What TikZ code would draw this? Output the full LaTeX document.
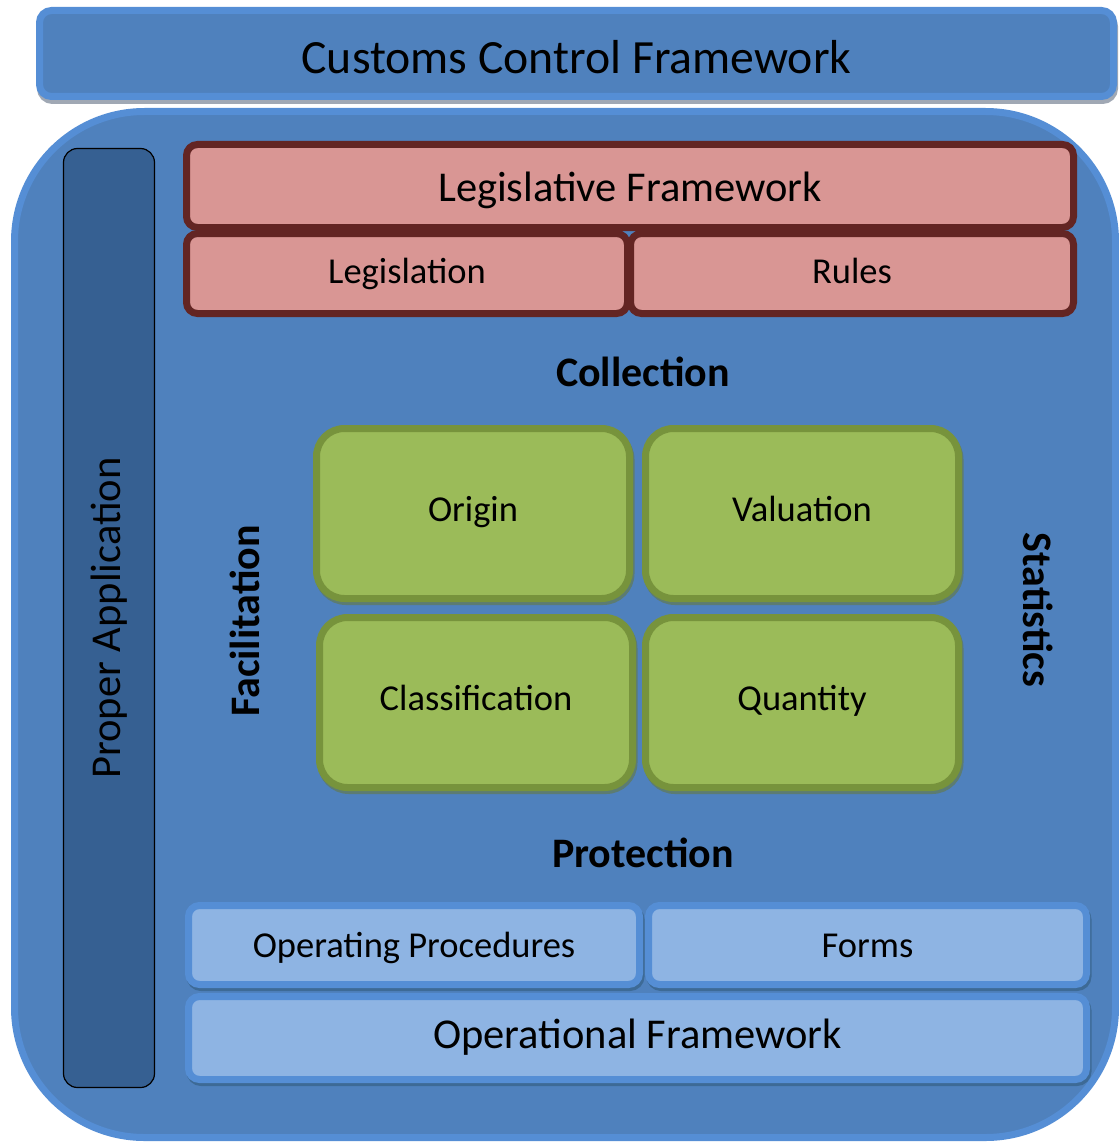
\documentclass[tikz,border=0pt]{standalone}
\usepackage{fontspec}
\setmainfont{Carlito}
\definecolor{frameblue}{HTML}{4F81BD}
\definecolor{edgeblue}{HTML}{558ED5}
\definecolor{bardark}{HTML}{366092}
\definecolor{legfill}{HTML}{D99694}
\definecolor{legedge}{HTML}{632523}
\definecolor{cellfill}{HTML}{9BBB59}
\definecolor{celledge}{HTML}{77933C}
\definecolor{cellshade}{HTML}{5C7C72}
\definecolor{opfill}{HTML}{8EB4E3}
\definecolor{opshade}{HTML}{3D6A96}
\definecolor{titleshade}{HTML}{A0A8B4}

\begin{document}
\begin{tikzpicture}[x=1pt,y=-1pt,
    every node/.style={inner sep=0pt,text=black},
    lab/.style={font=\fontsize{36.5}{44}\selectfont},
    biglab/.style={font=\fontsize{42.5}{50}\selectfont},
    side/.style={font=\bfseries\fontsize{42}{50}\selectfont},
    lift/.style={text height=#1,text depth=0pt},
    legbox/.style={draw=legedge,fill=legfill,line width=7pt,rounded corners=11pt},
    cellbox/.style={draw=celledge,fill=cellfill,line width=7pt,rounded corners=28pt,lab,lift=16pt,
        minimum width=313pt,minimum height=170pt,
        preaction={draw=cellshade,fill=cellshade,transform canvas={shift={(1.5pt,-3pt)}}}},
    opbox/.style={draw=edgeblue,fill=opfill,line width=7pt,rounded corners=11pt,
        preaction={draw=opshade,fill=opshade,transform canvas={shift={(1.5pt,-3pt)}}}}]
\useasboundingbox (0,0) rectangle (1118,1142);

\node[draw=edgeblue,fill=frameblue,line width=7pt,rounded corners=130pt,
    minimum width=1101pt,minimum height=1026pt] (frame) at (565,624.5) {};
\node[draw=edgeblue,fill=frameblue,line width=7pt,rounded corners=12pt,
    minimum width=1074pt,minimum height=86pt,font=\fontsize{47.7}{56}\selectfont,lift=40pt,
    preaction={draw=titleshade,fill=titleshade,transform canvas={shift={(1pt,-4pt)}}}]
    (title) at (576.5,53.5) {Customs Control Framework};

\node[draw=black,line width=1.2pt,fill=bardark,rounded corners=14pt,rotate=90,
    minimum width=939pt,minimum height=91pt,biglab] (apply) at (109,618) {Proper Application};

% legislative side
\node[legbox,biglab,lift=31pt,minimum width=887pt,minimum height=83pt] (legfw) at (630,186) {Legislative Framework};
\node[legbox,lab,lift=19pt,minimum width=441pt,minimum height=80pt] (legis) at (407,273.5) {Legislation};
\node[legbox,lab,lift=19pt,minimum width=443pt,minimum height=80pt] (rules) at (852,273.5) {Rules};

\node[side] (collect) at (643,372) {Collection};
\node[side,rotate=90] (facil) at (245,621) {Facilitation};
\node[side,rotate=-90] (stats) at (1038,610) {Statistics};
\node[side] (protect) at (643,853) {Protection};

\node[cellbox] (origin) at (473,513.5) {Origin};
\node[cellbox] (valu) at (802,513.5) {Valuation};
\node[cellbox] (classif) at (476,702.5) {Classification};
\node[cellbox] (quant) at (802,702.5) {Quantity};

% operational side
\node[opbox,lab,lift=25pt,minimum width=451pt,minimum height=79pt] (procs) at (414,945) {Operating Procedures};
\node[opbox,lab,lift=25pt,minimum width=438pt,minimum height=79pt] (forms) at (867.5,945) {Forms};
\node[opbox,biglab,lift=20pt,minimum width=898pt,minimum height=83pt] (opfw) at (637.5,1038) {Operational Framework};
\end{tikzpicture}
\end{document}
